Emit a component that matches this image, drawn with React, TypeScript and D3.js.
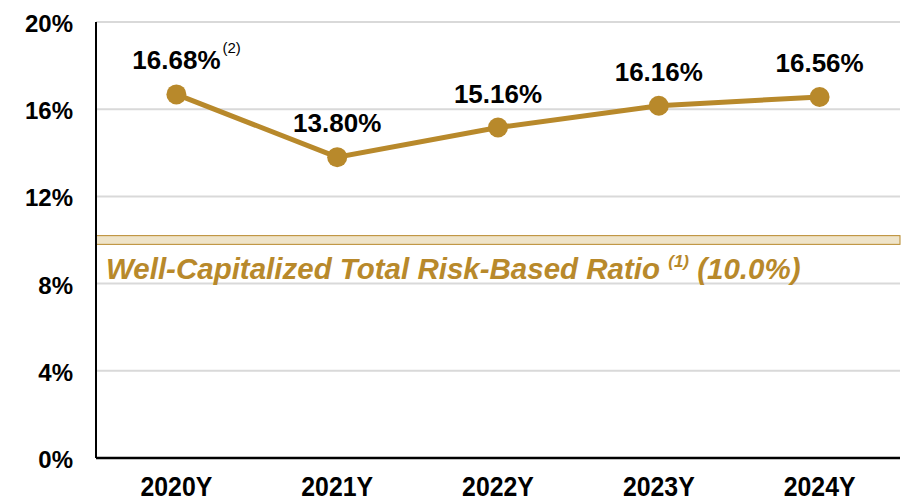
import * as d3 from 'd3';

const years = ['2020Y', '2021Y', '2022Y', '2023Y', '2024Y'];
const ratios = [16.68, 13.8, 15.16, 16.16, 16.56];
const yTicks = [0, 4, 8, 12, 16, 20];
const threshold = 10;

const gold = '#b8892b';
const font = "'Liberation Sans', Arial, sans-serif";

const App = () => {
    const width = 905;
    const height = 502;
    const left = 96, right = 900, top = 22, bottom = 458;

    const x = d3.scaleBand<string>().domain(years).range([left, right]);
    const y = d3.scaleLinear().domain([0, 20]).range([bottom, top]);
    const cx = (i: number) => (x(years[i]) ?? 0) + x.bandwidth() / 2;

    const line = d3.line<number>()
        .x((_, i) => cx(i))
        .y(d => y(d));

    return (
        <svg width={width} height={height} style={{position: 'absolute', left: 0, top: 0}}>
            <rect width={width} height={height} fill="white" />
            {yTicks.map(t => (
                <g key={t}>
                    {t > 0 && <line x1={left} x2={right} y1={y(t)} y2={y(t)} stroke="#d9d9d9" strokeWidth={2} />}
                    <text x={73} y={y(t) + 10} textAnchor="end" fontFamily={font} fontWeight="bold" fontSize="24px">{t}%</text>
                </g>
            ))}

            {/* well-capitalized band */}
            <rect x={left} y={y(threshold + 0.2)} width={right - left} height={y(threshold - 0.2) - y(threshold + 0.2)} fill="#efe4c9" stroke={gold} strokeWidth={1} />
            <text x={106} y={279} fill={gold} fontFamily={font} fontWeight="bold" fontStyle="italic" fontSize="29.5px">
                Well-Capitalized Total Risk-Based Ratio <tspan fontSize="17px" dy={-12}>(1)</tspan><tspan dy={12}> (10.0%)</tspan>
            </text>

            <line x1={left} x2={left} y1={top} y2={bottom} stroke="black" strokeWidth={2} />
            <line x1={left} x2={right} y1={bottom} y2={bottom} stroke="black" strokeWidth={2.5} />

            {years.map((yr, i) => (
                <text key={yr} transform={`translate(${cx(i)},496) scale(0.92,1)`} textAnchor="middle" fontFamily={font} fontWeight="bold" fontSize="27px">{yr}</text>
            ))}

            <path d={line(ratios) ?? ''} fill="none" stroke={gold} strokeWidth={5} />
            {ratios.map((v, i) => (
                <g key={i}>
                    <circle cx={cx(i)} cy={y(v)} r={10} fill={gold} />
                    <text x={cx(i)} y={y(v) - 25} textAnchor="middle" fontFamily={font} fontWeight="bold" fontSize="26px">{v.toFixed(2)}%</text>
                    {i === 0 && <text x={cx(i) + 46} y={y(v) - 41} fontFamily={font} fontSize="15px">(2)</text>}
                </g>
            ))}
        </svg>
    );
};

export default App;
